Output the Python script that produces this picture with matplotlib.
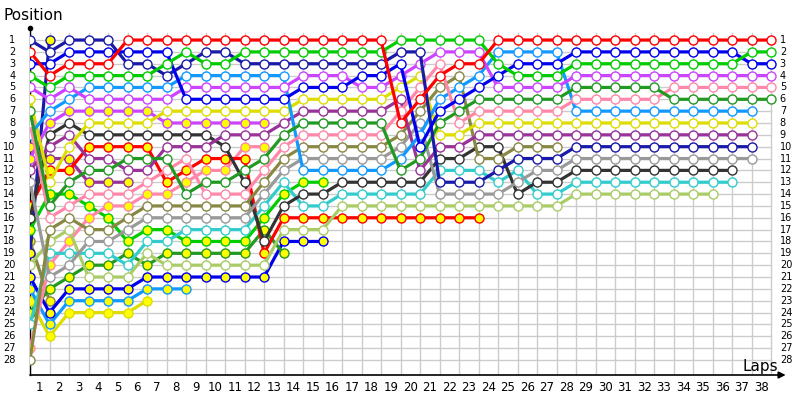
import matplotlib
matplotlib.use("Agg")
import matplotlib.pyplot as plt

# positions per lap, starting at lap 0 (grid)
navy_a = [1, 2, 1, 1, 1, 3, 3, 4, 3, 2, 2, 3, 3, 3, 3, 3, 3, 3, 3, 2, 2, 13, 13, 13, 12, 11, 11, 11] + [10] * 10
navy_b = [19, 1]
red_a = [2, 4, 3, 3, 3] + [1] * 14 + [8, 6, 4, 3, 3] + [1] * 15
red_b = [15, 12, 12, 10, 10, 10, 10, 13, 12, 11, 11, 11, 19] + [16] * 11
blue_a = [3, 3] + [2] * 6 + [6] * 6 + [5, 5, 5, 4, 4, 3, 10, 7, 6, 5, 4, 3, 3, 3] + [2] * 9 + [3, 3]
blue_b = [21, 24, 22, 22, 22, 22, 21, 21, 21, 21, 21, 21, 21, 18, 18, 18]
green_a = [4, 5, 4, 4, 4, 4, 4, 3, 2, 3, 3] + [2] * 8 + [1] * 5 + [3, 4, 4, 4] + [3] * 9 + [2, 2]
green_b = [17, 14, 14, 15, 16, 18, 17, 17, 18, 18, 18, 18, 16, 14, 13, 13]
violet_a = [5, 6, 5] + [6] * 5 + [5] * 6 + [4, 4, 4, 5, 5, 4, 3, 2, 2, 2] + [5] * 4 + [4] * 11
violet_b = [11, 8] + [7] * 5 + [8] * 6
yellow_a = [6, 13, 10] + [8] * 4 + [7] * 7 + [6] * 5 + [5, 4, 9, 9] + [8] * 15
yellow_b = [23, 26, 24, 24, 24, 24, 23]
dkgreen_a = [7, 15, 13, 12, 12, 11, 11, 11, 14, 13, 13, 12, 11, 9] + [8] * 5 + [12, 11, 8, 7] + [6] * 5 + [5] * 5 + [6] * 6
dkgreen_b = [24, 22, 21, 20, 20, 19, 20, 19, 19, 19, 19, 19, 17, 19]
pink_a = [8, 16, 15, 14, 14, 14, 13, 12, 11, 14, 14, 14, 12, 10] + [9] * 5 + [7, 5, 3, 8] + [7] * 5 + [6] * 5 + [5] * 6
pink_b = [27, 20, 18, 16, 15, 15, 14, 14, 13, 12, 12, 10, 10]
ltblue_a = [9, 7, 6] + [5] * 5 + [4] * 6 + [12] * 5 + [11, 9, 6, 5, 4] + [2] * 4 + [7] * 10
ltblue_b = [22, 25, 23, 23, 23, 23, 22, 22, 22]
dkpurple_a = [12, 10, 9, 11, 11, 12, 12, 10, 10, 10, 9, 9, 9, 8] + [7] * 5 + [6, 12, 10, 10] + [9] * 15
dkpurple_b = [10, 11, 11, 13, 13, 13]
gray_a = [13, 21, 20, 18, 18, 17, 16, 16, 16, 16, 16, 16, 14, 12] + [11] * 5 + [10, 8, 14, 14, 14, 14, 13, 12, 12] + [11] * 10
black_a = [16, 9, 8] + [9] * 7 + [10, 13, 18, 15, 14, 14] + [13] * 5 + [11, 11, 10, 10, 14, 13, 13] + [12] * 9
olive_a = [28, 17, 16, 17, 17, 16, 15, 15, 15, 15, 15, 15, 13, 11] + [10] * 5 + [9, 7, 5, 4, 11, 11, 10, 10, 10]
olive_b = [18, 23]
ltgreen_a = [20, 18, 17, 21, 21, 21, 19] + [20] * 6 + [17, 17, 17] + [15] * 12 + [14] * 8
cyan_a = [25, 19, 19, 19, 19, 20, 18, 18, 17, 17, 17, 17, 15, 13, 15, 15] + [14] * 5 + [12, 12, 12, 13, 12, 14, 14] + [13] * 9

# (data, line colour, filled marker)
series = [
    (olive_b, "#888844", True), (navy_b, "#1a1aa8", True),
    (yellow_b, "#dddd00", True), (ltblue_b, "#1199ff", True),
    (dkpurple_b, "#993399", True), (blue_b, "#0000ee", True),
    (green_b, "#00cc00", True), (dkgreen_b, "#229922", True),
    (pink_b, "#ff88aa", True), (violet_b, "#cc44ff", True),
    (red_b, "#ff0000", True),
    (ltgreen_a, "#aacc66", False), (cyan_a, "#33cccc", False),
    (black_a, "#333333", False), (gray_a, "#999999", False),
    (olive_a, "#888844", False), (dkpurple_a, "#993399", False),
    (yellow_a, "#dddd00", False), (ltblue_a, "#1199ff", False),
    (pink_a, "#ff88aa", False), (dkgreen_a, "#229922", False),
    (violet_a, "#cc44ff", False), (navy_a, "#1a1aa8", False),
    (blue_a, "#0000ee", False), (green_a, "#00cc00", False),
    (red_a, "#ff0000", False),
]

laps = list(range(0, 39))
positions = list(range(1, 29))

fig = plt.figure(figsize=(8, 4), dpi=100)
ax = fig.add_axes([0.0375, 0.0625, 0.9375, 0.875])
ax.set_xlim(0, 38.46)
ax.set_ylim(29.27, -0.27)
ax.axis("off")

# grid
for p in positions:
    ax.plot([0, 38], [p, p], color="#cccccc", lw=1, zorder=1)
for l in laps:
    ax.plot([l, l], [0.4, 29.27], color="#cccccc", lw=1, zorder=1)

# axes with arrow / dot
ax.plot([0, 0], [0, 29.27], color="black", lw=1, zorder=2, clip_on=False)
ax.plot([0], [0], marker="o", ms=3, color="black", clip_on=False, zorder=2)
ax.annotate("", xy=(38.75, 29.27), xytext=(0, 29.27),
            arrowprops=dict(arrowstyle="-|>", color="black", lw=1.2,
                            mutation_scale=10, shrinkA=0, shrinkB=0),
            annotation_clip=False)

z = 3
for data, col, filled in series:
    xs = list(range(len(data)))
    ax.plot(xs, data, color=col, lw=2.3, zorder=z, solid_joinstyle="round")
    ax.plot(xs, data, ls="none", marker="o", ms=6.5, mew=1.0, mec=col,
            mfc="#ffff00" if filled else "white", zorder=z + 0.5)
    z += 1

# labels
for p in positions:
    ax.text(-0.75, p, str(p), ha="right", va="center", fontsize=7, clip_on=False)
    ax.text(38.45, p, str(p), ha="left", va="center", fontsize=7, clip_on=False)
for l in laps[1:]:
    ax.text(l - 0.5, 30.3, str(l), ha="center", va="center", fontsize=8.5, clip_on=False)

fig.text(0.004, 0.962, "Position", fontsize=11, ha="left", va="center")
fig.text(0.928, 0.085, "Laps", fontsize=11, ha="left", va="center")

fig.savefig("out.png", dpi=100)
